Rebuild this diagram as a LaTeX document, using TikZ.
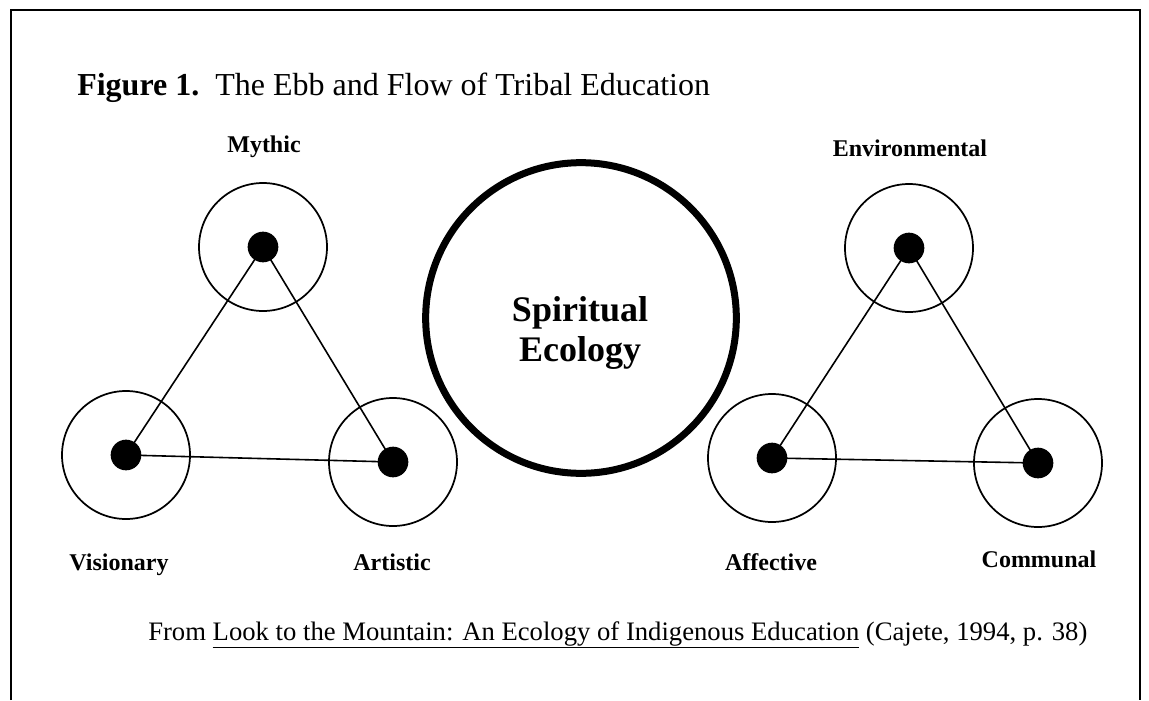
\documentclass[tikz,border=0pt]{standalone}
\usepackage{fontspec}
\setmainfont{Liberation Serif}
\usetikzlibrary{positioning}

\tikzset{
  ring/.style={circle, draw, line width=1.3pt, minimum size=96pt, inner sep=0pt},
  dot/.style={circle, fill, minimum size=23pt, inner sep=0pt},
  link/.style={line width=1.2pt},
  lbl/.style={font=\fontsize{18}{21}\selectfont\bfseries, anchor=base, inner sep=0pt},
  bigring/.style={circle, draw, line width=5.25pt, minimum size=233pt, inner sep=0pt},
}

\begin{document}
\begin{tikzpicture}[x=0.75pt, y=-0.75pt]
  \useasboundingbox (0,0) rectangle (1149,700);
  % open frame, no bottom edge
  \draw[line width=1.5pt] (11,700) -- (11,10) -- (1140,10) -- (1140,700);

  % heading
  \node[anchor=base west, inner sep=0pt, font=\fontsize{24}{28}\selectfont] (title) at (77,95)
    {\textbf{Figure 1.}\ \ The Ebb and Flow of Tribal Education};

  % left triangle
  \node[ring] (mythic) at (263,247) {};
  \node[ring] (visionary) at (126,455) {};
  \node[ring] (artistic) at (393,462) {};
  \draw[link] (mythic.center) -- (visionary.center) -- (artistic.center) -- (mythic.center);
  \foreach \n in {mythic,visionary,artistic}
    \node[dot] at (\n) {};

  % right triangle
  \node[ring] (environmental) at (909,248) {};
  \node[ring] (affective) at (772,458) {};
  \node[ring] (communal) at (1038,463) {};
  \draw[link] (environmental.center) -- (affective.center) -- (communal.center) -- (environmental.center);
  \foreach \n in {environmental,affective,communal}
    \node[dot] at (\n) {};

  % centre circle
  \node[bigring] (ecology) at (581,318) {};
  \node[align=center, font=\fontsize{27}{30.5}\selectfont\bfseries] at (580,333) {Spiritual\\Ecology};

  % labels
  \node[lbl] at (264,152) {Mythic};
  \node[lbl] at (910,156) {Environmental};
  \node[lbl] at (119,570) {Visionary};
  \node[lbl] at (392,570) {Artistic};
  \node[lbl] at (771,570) {Affective};
  \node[lbl] at (1039,567) {Communal};

  % source line
  \node[anchor=base west, inner sep=0pt, font=\fontsize{20}{24}\selectfont] (source) at (148,640)
    {From \underline{Look to the Mountain: An Ecology of Indigenous Education} (Cajete, 1994, p. 38)};
\end{tikzpicture}
\end{document}
